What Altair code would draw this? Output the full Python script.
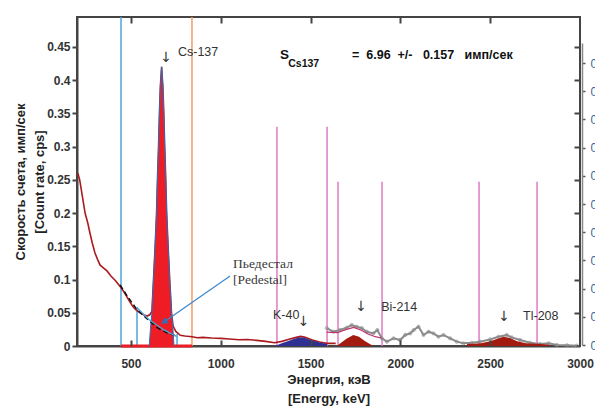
import altair as alt
import pandas as pd

FONT = "Liberation Sans"

# ---------------- data ----------------
# main spectrum (dark red), energy keV / count rate cps
spec_E = [205, 215, 230, 245, 260, 272, 285, 300, 315, 328, 345, 367, 390, 412, 439, 460, 478,
          495, 512, 530, 551, 570, 590, 605, 617, 626, 635, 643, 648, 654, 659, 664, 671, 678,
          683, 688, 694, 699, 707, 716, 726, 735, 750, 775, 800, 840, 870, 900, 950, 1000, 1050,
          1100, 1150, 1200, 1250, 1300, 1340, 1380, 1420, 1445, 1470, 1510, 1550, 1590, 1640]
spec_v = [0.26, 0.25, 0.225, 0.20, 0.185, 0.17, 0.155, 0.14, 0.13, 0.122, 0.118, 0.113, 0.105,
          0.099, 0.09, 0.082, 0.074, 0.066, 0.059, 0.054, 0.05, 0.047, 0.045, 0.047, 0.052, 0.1,
          0.15, 0.2, 0.25, 0.3, 0.35, 0.39, 0.42, 0.39, 0.35, 0.3, 0.25, 0.2, 0.15, 0.1, 0.05,
          0.03, 0.022, 0.016, 0.015, 0.014, 0.0125, 0.013, 0.012, 0.0115, 0.0105, 0.0095, 0.0098,
          0.0085, 0.007, 0.005, 0.007, 0.01, 0.013, 0.0145, 0.013, 0.009, 0.006, 0.004, 0.004]

# Cs-137 peak fill
cs_E = [602, 610, 617, 626, 635, 643, 648, 654, 659, 664, 671, 678, 683, 688, 694, 699, 707, 716, 726, 733, 740]
cs_v = [0, 0.03, 0.05, 0.1, 0.15, 0.2, 0.25, 0.3, 0.35, 0.39, 0.42, 0.39, 0.35, 0.3, 0.25, 0.2, 0.15, 0.1, 0.05, 0.03, 0]

# pedestal (dashed) and light-blue baseline
ped_E = [440, 480, 533, 594, 650, 700, 755]
ped_v = [0.092, 0.075, 0.055, 0.04, 0.027, 0.02, 0.015]
bl_E = [533, 600, 680, 755]
bl_v = [0.058, 0.04, 0.025, 0.014]

# K-40 fill
k_E = [1302, 1340, 1380, 1410, 1441, 1470, 1500, 1540, 1570, 1592]
k_v = [0.0, 0.004, 0.008, 0.011, 0.013, 0.012, 0.009, 0.006, 0.004, 0.003]

# grey spectrum
g_E = [1590, 1627, 1664, 1701, 1729, 1757, 1785, 1813, 1850, 1872, 1897, 1925, 1962, 1999, 2027,
       2055, 2074, 2101, 2129, 2157, 2184, 2212, 2240, 2277, 2314, 2351, 2397, 2444, 2500, 2546,
       2592, 2620, 2667, 2722, 2778, 2825, 2871, 2927, 2982]
g_v = [0.027, 0.0215, 0.024, 0.0276, 0.0316, 0.029, 0.027, 0.0215, 0.019, 0.024, 0.0115, 0.0065,
       0.0115, 0.009, 0.0166, 0.019, 0.024, 0.029, 0.0166, 0.0215, 0.019, 0.014, 0.0166, 0.0115,
       0.0065, 0.004, 0.005, 0.0065, 0.010, 0.014, 0.0166, 0.013, 0.009, 0.005, 0.003, 0.004,
       0.0015, 0.001, 0.0005]

# Bi-214 and Tl-208 fills
bi_E = [1645, 1670, 1700, 1738, 1770, 1800, 1830, 1850]
bi_v = [0, 0.005, 0.011, 0.0166, 0.014, 0.008, 0.003, 0]
tl_E = [2369, 2372, 2450, 2500, 2540, 2575, 2610, 2650, 2700, 2780, 2832, 2834]
tl_v = [0, 0.003, 0.004, 0.007, 0.011, 0.014, 0.012, 0.007, 0.004, 0.003, 0.002, 0]

# Bi-214 fit curve
fit_E = [1590, 1650, 1700, 1740, 1780, 1820, 1860, 1895]
fit_v = [0.021, 0.02, 0.025, 0.028, 0.024, 0.018, 0.014, 0.012]

# region-of-interest markers
rule_E = [445, 534, 757, 840, 1313, 1592, 1653, 1898, 2438, 2761]
rule_top = [0.495, 0.058, 0.018, 0.495, 0.33, 0.33, 0.247, 0.247, 0.247, 0.247]
rule_col = ["#4ba6db", "#4ba6db", "#4ba6db", "#f59b62", "#e07ac6", "#e07ac6",
            "#e07ac6", "#e07ac6", "#e07ac6", "#e07ac6"]
roi_E = [445, 840]
roi_v = [0, 0]

# axis tick values
x_ticks = [500, 1000, 1500, 2000, 2500, 3000]
x_inner = [500, 1000, 1500, 2000, 2500]
y_ticks = [0, 0.05, 0.1, 0.15, 0.2, 0.25, 0.3, 0.35, 0.4, 0.45]
y_inner = [0.05, 0.1, 0.15, 0.2, 0.25, 0.3, 0.35, 0.4, 0.45]
sec_ticks = [0.0, 0.05, 0.1, 0.15, 0.2, 0.25, 0.3, 0.35, 0.4, 0.45, 0.5]

# annotations
lbl_E = [762, 1291, 1893, 2683]
lbl_v = [0.4425, 0.0467, 0.0587, 0.0452]
lbl_t = ["Cs-137", "K-40", "Bi-214", "Tl-208"]
arr_E = [696, 1462, 1781, 2577]
arr_v = [0.4335, 0.036, 0.0587, 0.0436]
ped_lbl_E = [1069, 1069]
ped_lbl_v = [0.1234, 0.0993]
ped_lbl_t = ["Пьедестал", "[Pedestal]"]
pa_E = [1052, 684]
pa_v = [0.1054, 0.0361]
res_S = "S"
res_sub = "Cs137"
res_txt = "=\u00a0\u00a06.96\u00a0\u00a0+/-\u00a0\u00a0\u00a00.157\u00a0\u00a0\u00a0имп/сек"

# ---------------- chart ----------------
W, H = 503, 329


def xenc(axis=None):
    return alt.X("E:Q", scale=alt.Scale(domain=[200, 3000], nice=False, zero=False), axis=axis)


def yenc(axis=None, field="v"):
    return alt.Y(f"{field}:Q", scale=alt.Scale(domain=[0, 0.495], nice=False, zero=False), axis=axis)


main_x_axis = alt.Axis(values=x_ticks, format="d", ticks=False, tickSize=0, labelFont=FONT,
                       labelFontSize=12, labelFontWeight="bold", labelColor="#333",
                       labelPadding=12, labelFlush=False, domainColor="#444", domainWidth=2,
                       grid=False, title=["Энергия, кэВ", "[Energy, keV]"], titleFont=FONT,
                       titleFontSize=13, titleFontWeight="bold", titleColor="#222",
                       titlePadding=4, titleLineHeight=19)
main_y_axis = alt.Axis(values=y_ticks, format="~g", tickSize=5, tickWidth=2, tickColor="#444",
                       labelFont=FONT, labelFontSize=12, labelFontWeight="bold",
                       labelColor="#333", labelPadding=2, labelFlush=False,
                       domainColor="#444", domainWidth=2, grid=False,
                       title=["Скорость счета, имп/сек", "[Count rate, cps]"], titleFont=FONT,
                       titleFontSize=13, titleFontWeight="bold", titleColor="#222",
                       titlePadding=0, titleLineHeight=19)
top_ticks = alt.Axis(orient="bottom", offset=-H, values=x_inner, labels=False, domain=False,
                     tickSize=6, tickWidth=2, tickColor="#444", grid=False, title=None, zindex=1)
bot_ticks = alt.Axis(orient="top", offset=-H, values=x_inner, labels=False, domain=False,
                     tickSize=6, tickWidth=2, tickColor="#444", grid=False, title=None, zindex=1)
right_ticks = alt.Axis(orient="left", offset=-W, values=y_inner, labels=False, domain=False,
                       tickSize=6, tickWidth=2, tickColor="#444", grid=False, title=None, zindex=1)
sec_axis = alt.Axis(orient="right", offset=2, values=sec_ticks, format=".2~f", tickSize=3,
                    tickWidth=1.5, tickColor="#555", domainColor="#888", domainWidth=1.5,
                    labelColor="#3d6a99", labelFont=FONT, labelFontSize=12, labelPadding=5,
                    labelFlush=False, grid=False, title=None)

spec_df = pd.DataFrame({"E": spec_E, "v": spec_v})
cs_df = pd.DataFrame({"E": cs_E, "v": cs_v})
ped_df = pd.DataFrame({"E": ped_E, "v": ped_v})
bl_df = pd.DataFrame({"E": bl_E, "v": bl_v})
k_df = pd.DataFrame({"E": k_E, "v": k_v})
g_df = pd.DataFrame({"E": g_E, "v": g_v})
bi_df = pd.DataFrame({"E": bi_E, "v": bi_v})
tl_df = pd.DataFrame({"E": tl_E, "v": tl_v})
fit_df = pd.DataFrame({"E": fit_E, "v": fit_v})
rule_df = pd.DataFrame({"E": rule_E, "v": [0] * len(rule_E), "top": rule_top, "c": rule_col})
roi_df = pd.DataFrame({"E": roi_E, "v": roi_v})
sec_df = pd.DataFrame({"E": [3000] * len(sec_ticks), "s": sec_ticks})
lbl_df = pd.DataFrame({"E": lbl_E, "v": lbl_v, "t": lbl_t})
arr_df = pd.DataFrame({"E": arr_E, "v": arr_v, "t": ["↓"] * len(arr_E)})
pl_df = pd.DataFrame({"E": ped_lbl_E, "v": ped_lbl_v, "t": ped_lbl_t})
pa_df = pd.DataFrame({"E": pa_E, "v": pa_v})
S_df = pd.DataFrame({"E": [1330], "v": [0.438], "t": [res_S]})
sub_df = pd.DataFrame({"E": [1376], "v": [0.4245], "t": [res_sub]})
res_df = pd.DataFrame({"E": [1731], "v": [0.438], "t": [res_txt]})

rules = alt.Chart(rule_df).mark_rule(strokeWidth=1.5).encode(
    x=xenc(bot_ticks), y=yenc(), y2="top:Q", color=alt.Color("c:N", scale=None))
roi = alt.Chart(roi_df).mark_line(color="#ee1c25", strokeWidth=3).encode(x=xenc(), y=yenc())
spec = alt.Chart(spec_df).mark_line(color="#ab1a1f", strokeWidth=1.6).encode(
    x=xenc(main_x_axis), y=yenc(main_y_axis))
cs_fill = alt.Chart(cs_df).mark_area(color="#ee1c25").encode(x=xenc(), y=yenc())
cs_edge = alt.Chart(cs_df).mark_line(color="#2a6fc0", strokeWidth=1).encode(x=xenc(), y=yenc())
ped = alt.Chart(ped_df).mark_line(color="#111", strokeWidth=1.5, strokeDash=[5, 3]).encode(
    x=xenc(), y=yenc())
bl = alt.Chart(bl_df).mark_line(color="#4ba6db", strokeWidth=1.2).encode(x=xenc(), y=yenc())
k_fill = alt.Chart(k_df).mark_area(color="#2e3192").encode(x=xenc(), y=yenc())
grey = alt.Chart(g_df).mark_line(color="#8a8a8a", strokeWidth=2).encode(
    x=xenc(top_ticks), y=yenc(right_ticks))
grey_pts = alt.Chart(g_df).mark_point(shape="circle", size=10, color="#8a8a8a",
                                      strokeWidth=1).encode(x=xenc(), y=yenc())
bi_fill = alt.Chart(bi_df).mark_area(color="#a31a10").encode(x=xenc(), y=yenc())
tl_fill = alt.Chart(tl_df).mark_area(color="#a31a10").encode(x=xenc(), y=yenc())
fit = alt.Chart(fit_df).mark_line(color="#c03070", strokeWidth=1.2).encode(x=xenc(), y=yenc())
parrow = alt.Chart(pa_df).mark_line(color="#3a86cc", strokeWidth=1.2).encode(x=xenc(), y=yenc())
phead = alt.Chart(pa_df.iloc[[1]]).mark_point(shape="triangle-up", angle=235, filled=True,
                                             size=55, color="#2f6fb8", opacity=1).encode(
    x=xenc(), y=yenc())
labels = alt.Chart(lbl_df).mark_text(align="left", baseline="middle", font=FONT,
                                     fontSize=12.5, color="#333").encode(
    x=xenc(), y=yenc(), text="t:N")
arrows = alt.Chart(arr_df).mark_text(align="center", baseline="middle", font="DejaVu Sans",
                                     fontSize=14, color="#333").encode(
    x=xenc(), y=yenc(), text="t:N")
ped_lbl = alt.Chart(pl_df).mark_text(align="left", baseline="middle", font="Liberation Serif",
                                     fontSize=13.5, color="#3a3a3a").encode(
    x=xenc(), y=yenc(), text="t:N")
s_txt = alt.Chart(S_df).mark_text(align="left", baseline="middle", font=FONT, fontSize=13.5,
                                  fontWeight="bold", color="#111").encode(
    x=xenc(), y=yenc(), text="t:N")
sub_txt = alt.Chart(sub_df).mark_text(align="left", baseline="middle", font=FONT, fontSize=10.5,
                                      fontWeight="bold", color="#111").encode(
    x=xenc(), y=yenc(), text="t:N")
res = alt.Chart(res_df).mark_text(align="left", baseline="middle", font=FONT, fontSize=12.5,
                                  fontWeight="bold", color="#111").encode(
    x=xenc(), y=yenc(), text="t:N")
sec = alt.Chart(sec_df).mark_point(opacity=0).encode(
    x=xenc(),
    y=alt.Y("s:Q", scale=alt.Scale(domain=[0, 0.5355], range=[328, 26], nice=False, zero=False),
            axis=sec_axis))

chart = alt.layer(
    rules, roi, spec, cs_fill, cs_edge, ped, bl, k_fill, grey, grey_pts, bi_fill, tl_fill, fit,
    parrow, phead, labels, arrows, ped_lbl, s_txt, sub_txt, res, sec
).resolve_scale(x="independent", y="independent").properties(
    width=W, height=H,
    autosize=alt.AutoSizeParams(type="none"),
    padding={"left": 77, "top": 17, "right": 15, "bottom": 60},
    background="white",
).configure_view(stroke="#444", strokeWidth=2)

chart.save("out.html", embed_options={"renderer": "svg", "actions": False})
